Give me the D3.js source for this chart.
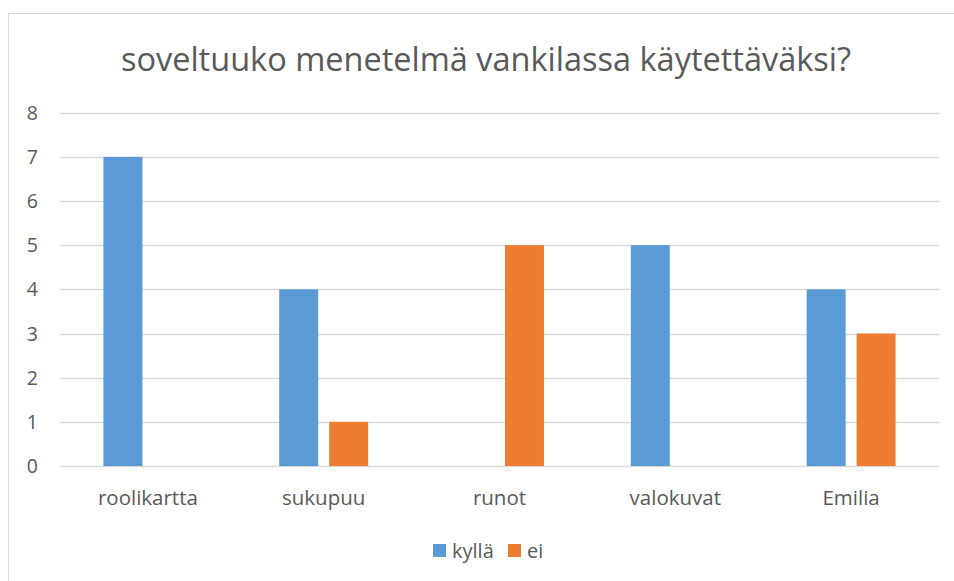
<!DOCTYPE html>
<html>
<head>
<meta charset="utf-8">
<script src="https://cdn.jsdelivr.net/npm/d3@7"></script>
<style>
  body { margin: 0; background: #fff; }
  text { font-family: "Open Sans", sans-serif; fill: #595959; }
</style>
</head>
<body>
<div class="container"></div>
<script>
const categories = ["roolikartta", "sukupuu", "runot", "valokuvat", "Emilia"];
const seriesNames = ["kyllä", "ei"];
const kylla = [7, 4, 0, 5, 4];
const ei = [0, 1, 5, 0, 3];
const yTicks = [0, 1, 2, 3, 4, 5, 6, 7, 8];
const colors = ["#5b9bd5", "#ed7d31"];

const width = 954, height = 581;
const plot = {left: 60, right: 939, top: 112.7, bottom: 466};

let svg = d3.select(".container").append("svg")
  .attr("width", width)
  .attr("height", height);

// chart frame
svg.append("rect")
  .attr("x", 8.5).attr("y", 13.5)
  .attr("width", 960).attr("height", 600)
  .attr("fill", "#fff")
  .attr("stroke", "#d9d9d9")
  .attr("stroke-width", 1);

svg.append("text")
  .attr("x", 486).attr("y", 71)
  .attr("text-anchor", "middle")
  .style("font-size", "32.5px")
  .text("soveltuuko menetelmä vankilassa käytettäväksi?");

const y = d3.scaleLinear().domain([0, 8]).range([plot.bottom, plot.top]);
const x0 = d3.scaleBand().domain(categories)
  .range([plot.left, plot.right])
  .paddingInner(0.494).paddingOuter(0.247);
const x1 = d3.scaleBand().domain(seriesNames)
  .range([0, x0.bandwidth()])
  .paddingInner(0.22);

// gridlines
svg.append("g")
  .selectAll("line")
  .data(yTicks)
  .enter()
  .append("line")
  .attr("x1", plot.left).attr("x2", plot.right)
  .attr("y1", d => Math.round(y(d)) + 0.5)
  .attr("y2", d => Math.round(y(d)) + 0.5)
  .attr("stroke", "#d9d9d9")
  .attr("stroke-width", 1.3);

// y labels
svg.append("g")
  .selectAll("text")
  .data(yTicks)
  .enter()
  .append("text")
  .attr("x", 38)
  .attr("y", d => y(d))
  .attr("dy", "0.36em")
  .attr("text-anchor", "end")
  .style("font-size", "19.5px")
  .text(d => d);

const table = categories.map((c, i) => ({cat: c, vals: [kylla[i], ei[i]]}));

let groups = svg.append("g")
  .selectAll("g")
  .data(table)
  .enter()
  .append("g")
  .attr("transform", d => `translate(${x0(d.cat)},0)`);

groups.selectAll("rect")
  .data(d => d.vals.map((v, j) => ({name: seriesNames[j], v: v, j: j})))
  .enter()
  .append("rect")
  .attr("x", d => x1(d.name))
  .attr("width", x1.bandwidth())
  .attr("y", d => y(d.v))
  .attr("height", d => y(0) - y(d.v))
  .attr("fill", d => colors[d.j]);

// category labels
svg.append("g")
  .selectAll("text")
  .data(categories)
  .enter()
  .append("text")
  .attr("x", d => x0(d) + x0.bandwidth() / 2)
  .attr("y", 505)
  .attr("text-anchor", "middle")
  .style("font-size", "20.5px")
  .text(d => d);

// legend
const legendX = [433, 508];
let legend = svg.append("g")
  .selectAll("g")
  .data(seriesNames)
  .enter()
  .append("g")
  .attr("transform", (d, i) => `translate(${legendX[i]},544)`);
legend.append("rect")
  .attr("width", 13).attr("height", 13)
  .attr("fill", (d, i) => colors[i]);
legend.append("text")
  .attr("x", 19).attr("y", 7)
  .attr("dy", "0.36em")
  .style("font-size", "20px")
  .text(d => d);
</script>
</body>
</html>
